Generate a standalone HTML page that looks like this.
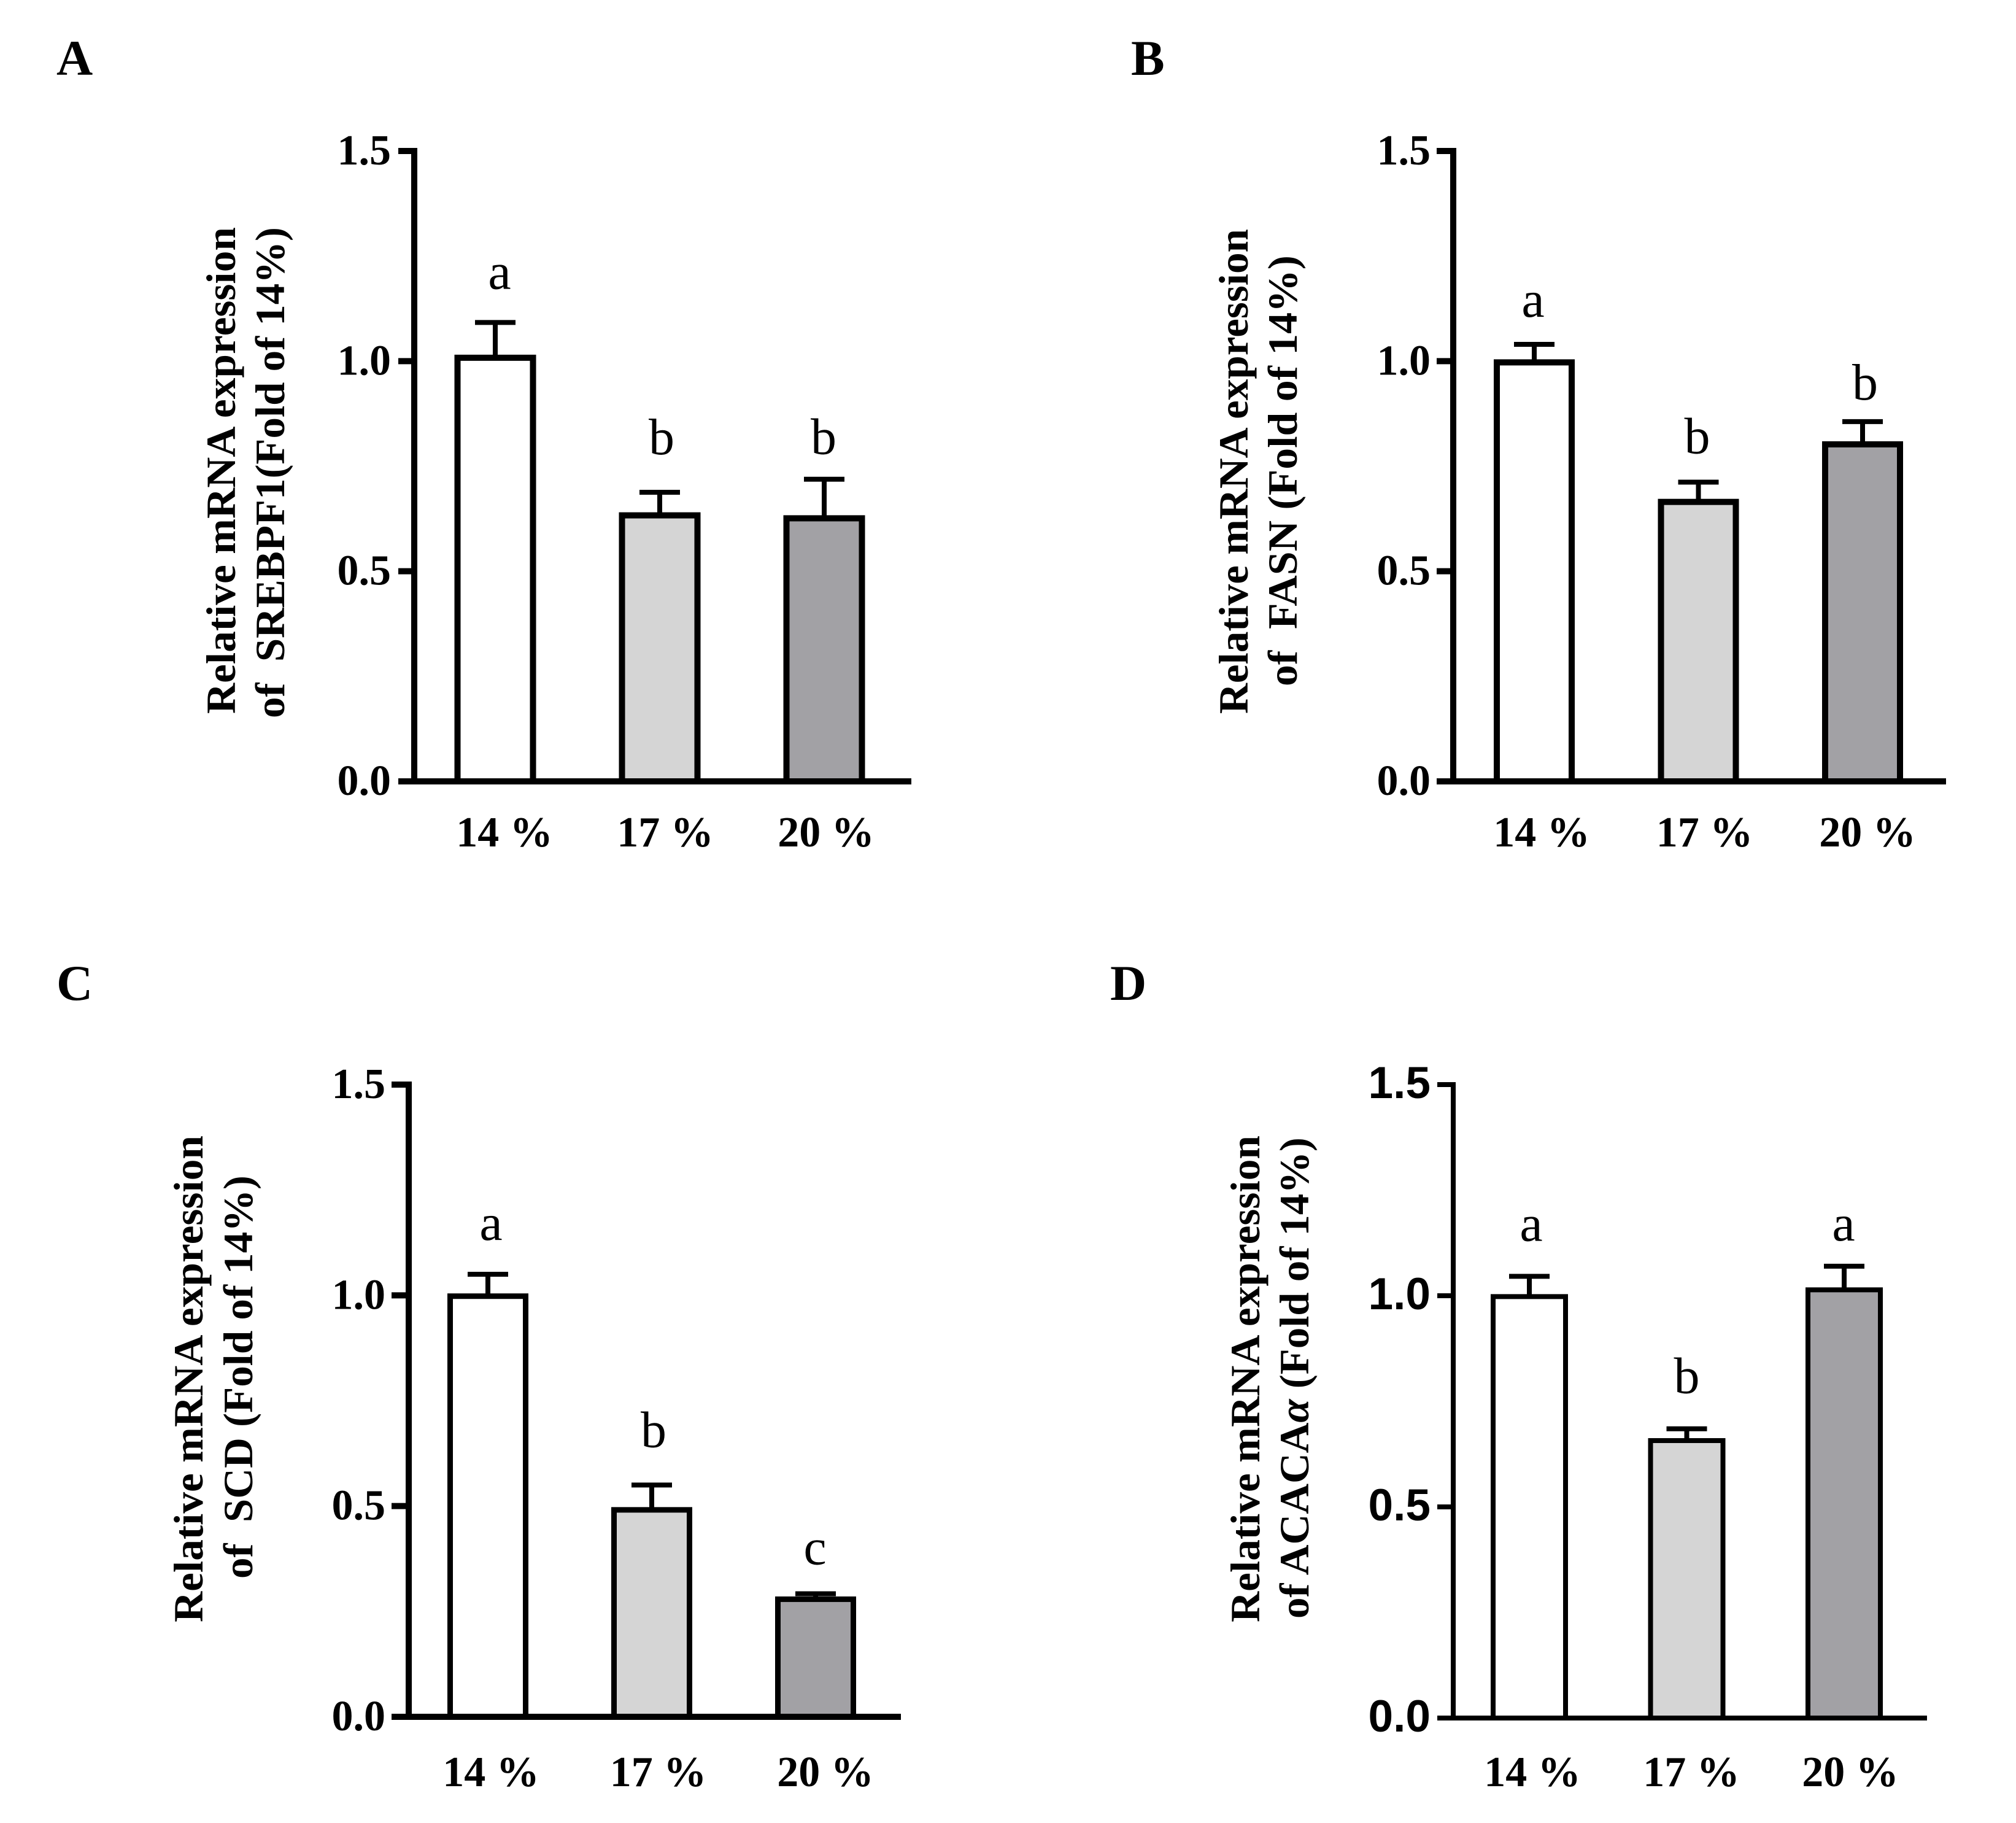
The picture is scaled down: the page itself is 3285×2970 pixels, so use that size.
<!DOCTYPE html>
<html lang="en">
<head>
<meta charset="utf-8">
<title>Relative mRNA expression panels</title>
<style>
html,body{margin:0;padding:0;background:#fff;width:3285px;height:2970px;overflow:hidden}
svg{display:block}
text{font-family:"Liberation Serif",serif;fill:#000}
.title{font-weight:bold;font-size:68px}
.panel{font-weight:bold;font-size:82px}
</style>
</head>
<body>
<svg id="figure" xmlns="http://www.w3.org/2000/svg" width="3285" height="2970" viewBox="0 0 3285 2970">
<rect width="3285" height="2970" fill="#fff"/>
<text class="panel" x="92" y="122">A</text>
<text class="panel" x="1843" y="122">B</text>
<text class="panel" x="92" y="1629">C</text>
<text class="panel" x="1809" y="1629">D</text>

<text class="title" transform="translate(383 1163) rotate(-90)" textLength="793" lengthAdjust="spacingAndGlyphs">Relative mRNA expression</text>
<text class="title" transform="translate(463 1170) rotate(-90)" textLength="800" lengthAdjust="spacingAndGlyphs" xml:space="preserve">of  SREBPF1(Fold of 14%)</text>
<text class="title" transform="translate(2033 1163) rotate(-90)" textLength="790" lengthAdjust="spacingAndGlyphs">Relative mRNA expression</text>
<text class="title" transform="translate(2113 1118) rotate(-90)" textLength="702" lengthAdjust="spacingAndGlyphs" xml:space="preserve">of  FASN (Fold of 14%)</text>
<text class="title" transform="translate(330 2643) rotate(-90)" textLength="793" lengthAdjust="spacingAndGlyphs">Relative mRNA expression</text>
<text class="title" transform="translate(411 2572) rotate(-90)" textLength="657" lengthAdjust="spacingAndGlyphs" xml:space="preserve">of  SCD (Fold of 14%)</text>
<text class="title" transform="translate(2052 2643) rotate(-90)" textLength="793" lengthAdjust="spacingAndGlyphs">Relative mRNA expression</text>
<text class="title" transform="translate(2132 2637) rotate(-90)" textLength="784" lengthAdjust="spacingAndGlyphs" xml:space="preserve">of ACACA<tspan font-style="italic">α</tspan> (Fold of 14%)</text>
</svg>
<script>
// ---- chart data ----
const categories = ["14 %", "17 %", "20 %"];
const tickValues = [0, 0.5, 1, 1.5];
const tickLabels = ["0.0", "0.5", "1.0", "1.5"];
const barColors = ["#ffffff", "#d5d5d5", "#a2a1a5"];

const srebpf1Means = [1.008, 0.633, 0.626];
const srebpf1Errors = [0.084, 0.055, 0.093];
const srebpf1Letters = ["a", "b", "b"];

const fasnMeans = [0.997, 0.665, 0.802];
const fasnErrors = [0.043, 0.047, 0.054];
const fasnLetters = ["a", "b", "b"];

const scdMeans = [0.998, 0.491, 0.279];
const scdErrors = [0.052, 0.059, 0.013];
const scdLetters = ["a", "b", "c"];

const acacaMeans = [0.998, 0.657, 1.014];
const acacaErrors = [0.048, 0.028, 0.056];
const acacaLetters = ["a", "b", "a"];

// ---- layout (panel geometry only) ----
const panels = [
  {id:"a", means:srebpf1Means, errors:srebpf1Errors, letters:srebpf1Letters,
   axisX:675, top:246, base:1273, right:1485, tickLeft:649, tickRight:637,
   barStart:807, barStep:268, barW:123, stroke:10, axisW:10,
   labelStart:822, labelStep:262, labelY:1379, letterDx:[7,3,-1], letterGap:[55,62,41], tickFont:"Liberation Serif", tickSize:70},
  {id:"b", means:fasnMeans, errors:fasnErrors, letters:fasnLetters,
   axisX:2368, top:246, base:1273, right:3171, tickLeft:2341, tickRight:2331,
   barStart:2500, barStep:267.5, barW:122, stroke:10, axisW:10,
   labelStart:2512, labelStep:265.5, labelY:1379, letterDx:[-2,-2,4], letterGap:[45,47,36], tickFont:"Liberation Serif", tickSize:70},
  {id:"c", means:scdMeans, errors:scdErrors, letters:scdLetters,
   axisX:666, top:1767, base:2797, right:1468, tickLeft:638, tickRight:628,
   barStart:795, barStep:267, barW:123, stroke:9, axisW:10,
   labelStart:800, labelStep:272.5, labelY:2910, letterDx:[5,3,-1], letterGap:[56,62,48], tickFont:"Liberation Serif", tickSize:70},
  {id:"d", means:acacaMeans, errors:acacaErrors, letters:acacaLetters,
   axisX:2368, top:1767, base:2799, right:3140, tickLeft:2342, tickRight:2331,
   barStart:2492, barStep:256.5, barW:118, stroke:8, axisW:8,
   labelStart:2497, labelStep:259, labelY:2910, letterDx:[3,0,-1], letterGap:[58,58,42], tickFont:"Liberation Sans", tickSize:73}
];

const NS = "http://www.w3.org/2000/svg";
const svg = document.getElementById("figure");

function make(tag, attrs, parent) {
  const el = document.createElementNS(NS, tag);
  for (const k in attrs) el.setAttribute(k, attrs[k]);
  parent.appendChild(el);
  return el;
}

panels.forEach(function (p) {
  const yScale = function (v) { return p.base - (v / 1.5) * (p.base - p.top); };
  const xBar = function (i) { return p.barStart + i * p.barStep; };

  const chart = make("g", {}, svg);
  
  

  // bars and error bars
  categories.forEach(function (cat, i) {
    const cx = xBar(i);
    const yTop = yScale(p.means[i]);
    const yErr = yScale(p.means[i] + p.errors[i]);

    const stem = make("line", {x1:cx, x2:cx, y1:yTop, y2:yErr, stroke:"#000", "stroke-width":8}, chart);
    
    

    const cap = make("line", {x1:cx - 33, x2:cx + 33, y1:yErr, y2:yErr, stroke:"#000", "stroke-width":8}, chart);
    
    

    const bar = make("rect", {
      x: cx - p.barW / 2, y: yTop, width: p.barW, height: yScale(0) - yTop,
      fill: barColors[i], stroke: "#000", "stroke-width": p.stroke
    }, chart);
    
    

    const letter = make("text", {
      x: cx + p.letterDx[i], y: yErr - p.letterGap[i], "text-anchor":"middle", "font-size":84
    }, chart);
    letter.textContent = p.letters[i];
    
    

    const label = make("text", {
      x: p.labelStart + i * p.labelStep, y: p.labelY, "text-anchor":"middle",
      "font-size":70, "font-weight":"bold"
    }, chart);
    label.textContent = cat;
    
    
  });

  // axes
  const yAxis = make("line", {x1:p.axisX, x2:p.axisX, y1:p.top - p.axisW / 2, y2:p.base + p.axisW / 2, stroke:"#000", "stroke-width":p.axisW}, chart);
  
  

  const xAxis = make("line", {x1:p.tickLeft, x2:p.right, y1:p.base, y2:p.base, stroke:"#000", "stroke-width":p.axisW}, chart);
  
  

  tickValues.forEach(function (v, i) {
    const y = yScale(v);
    const tick = make("line", {x1:p.tickLeft, x2:p.axisX, y1:y, y2:y, stroke:"#000", "stroke-width":p.axisW}, chart);
    
    

    const lab = make("text", {
      x: p.tickRight, y: y + 22, "text-anchor":"end",
      "font-size": p.tickSize, "font-weight":"bold",
      style: 'font-family:"' + p.tickFont + '",sans-serif'
    }, chart);
    lab.textContent = tickLabels[i];
    
    
  });
});
</script>
</body>
</html>
